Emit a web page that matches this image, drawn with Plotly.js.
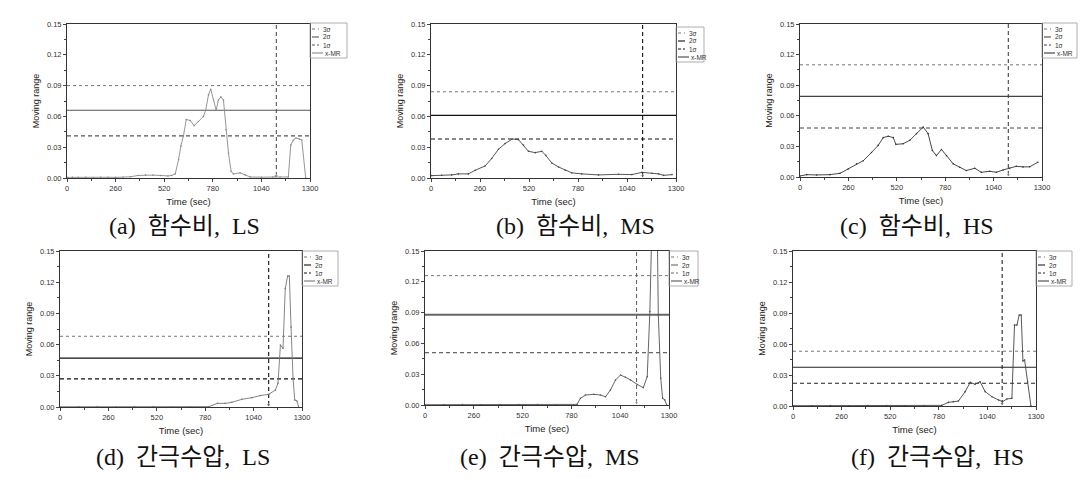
<!DOCTYPE html>
<html><head><meta charset="utf-8">
<script src="https://cdn.plot.ly/plotly-3.0.1.min.js"></script>
<style>html,body{margin:0;padding:0;background:#fff}#c{width:1086px;height:478px}</style>
</head><body><div id="c"></div>
<script>
const timeTicks = [0,260,520,780,1040,1300];
const yTicks = [0,0.03,0.06,0.09,0.12,0.15];
const captions = ["(a)  함수비,  LS","(b)  함수비,  MS","(c)  함수비,  HS","(d)  간극수압,  LS","(e)  간극수압,  MS","(f)  간극수압,  HS"];
const legendNames = ["3σ","2σ","1σ","x-MR"];
const sigma3 = [0.090,0.084,0.110,0.068,0.126,0.053];
const sigma2 = [0.066,0.061,0.079,0.047,0.088,0.0375];
const sigma1 = [0.041,0.038,0.048,0.027,0.051,0.022];
const changeTime = [1120,1123,1119,1121,1127,1119];

const tA = [0,30,60,100,140,180,220,260,300,340,380,420,460,500,540,560,579,597,609,623,638,659,680,703,730,742,757,769,784,798,810,823,837,850,864,878,890,926,953,980,1040,1100,1113,1140,1184,1197,1211,1225,1243,1256,1277];
const mrA = [0.0006,0.0007,0.0006,0.0007,0.0005,0.0006,0.0007,0.0006,0.0008,0.0012,0.0025,0.003,0.0028,0.0025,0.002,0.0025,0.004,0.018,0.031,0.041,0.057,0.056,0.051,0.055,0.060,0.066,0.081,0.0865,0.076,0.066,0.076,0.079,0.076,0.047,0.024,0.0065,0.004,0.005,0.003,0.001,0.0008,0.001,0.0016,0.001,0.001,0.032,0.037,0.039,0.038,0.037,0.0];
const tB = [4,57,110,145,198,234,287,322,358,393,432,464,491,517,553,588,609,641,677,712,747,800,889,995,1066,1119,1172,1208,1234,1279];
const mrB = [0.0023,0.0026,0.003,0.004,0.004,0.0075,0.0117,0.019,0.028,0.0335,0.038,0.0374,0.032,0.026,0.0247,0.026,0.022,0.0146,0.0107,0.0075,0.005,0.004,0.003,0.0036,0.0033,0.0055,0.0046,0.004,0.0026,0.0033];
const tC = [0,36,89,161,215,259,304,340,384,420,447,474,501,515,554,590,626,662,688,711,733,760,787,823,858,894,939,974,1019,1055,1091,1126,1162,1198,1234,1278];
const mrC = [0.001,0.0023,0.002,0.0023,0.0036,0.0079,0.0129,0.016,0.024,0.031,0.0386,0.040,0.0386,0.032,0.0326,0.036,0.0425,0.049,0.0425,0.026,0.021,0.027,0.021,0.0129,0.0096,0.0063,0.0086,0.0046,0.0056,0.0046,0.0069,0.0086,0.0105,0.0099,0.010,0.0145];
const tD = [0,100,200,300,400,500,600,700,800,846,887,923,977,1031,1076,1121,1157,1171,1184,1198,1210,1223,1232,1241,1252,1261,1273,1282];
const mrD = [0.0003,0.0003,0.0004,0.0003,0.0005,0.0004,0.0003,0.0003,0.0004,0.0035,0.0035,0.0045,0.0074,0.009,0.011,0.0122,0.0163,0.0228,0.0596,0.0564,0.114,0.126,0.126,0.077,0.0276,0.0067,0.0058,0.0];
const tE = [0,100,200,300,400,500,600,700,790,810,828,855,899,935,962,988,1015,1042,1068,1095,1131,1163,1184,1198,1207,1222,1238,1243,1256,1266,1277,1288];
const mrE = [0.0003,0.0003,0.0004,0.0003,0.0004,0.0005,0.0004,0.0003,0.0003,0.0006,0.0065,0.0097,0.0104,0.0097,0.0081,0.0146,0.0244,0.0292,0.027,0.0244,0.020,0.0169,0.0276,0.091,0.16,0.18,0.165,0.0877,0.026,0.0065,0.005,0.0];
const tF = [0,100,200,300,400,500,600,700,796,831,858,885,921,948,974,1001,1028,1064,1100,1121,1144,1171,1185,1198,1210,1221,1230,1239,1255,1273];
const mrF = [0.0003,0.0003,0.0004,0.0003,0.0005,0.0004,0.0003,0.0003,0.0006,0.0035,0.0042,0.0048,0.0139,0.0229,0.021,0.0235,0.0139,0.009,0.0058,0.0042,0.0068,0.0074,0.0784,0.0784,0.088,0.088,0.0435,0.0445,0.0235,0.0];

const times = [tA,tB,tC,tD,tE,tF];
const mrs = [mrA,mrB,mrC,mrD,mrE,mrF];

// layout geometry (pixels)
const W = 1086, H = 478;
const boxes = [ // [left,right,top,bottom]
  [67,310,24,178],[431,676,24,178],[800,1042,24,177],
  [60,302,251,407],[425,669,251,405],[793,1036,251,406]];
const legTop = [23,27,23,251,251,251];
const legW = [37,28,35,36,29,36];
const capPos = [[184,226],[575,226],[917,226],[183,457],[550,457],[937,457]];
const mrColor = ['#8a8a8a','#444','#333','#777','#555','#444'];
const thrColor = ['#555','#111','#444','#111','#666','#222'];

const px = x => x / W, py = y => 1 - y / H;
const traces = [];
const layout = {
  width: W, height: H, margin:{l:0,r:0,t:0,b:0}, showlegend:false,
  paper_bgcolor:'#fff', plot_bgcolor:'#fff',
  font:{family:'Liberation Sans, Arial, sans-serif', color:'#333'},
  shapes:[], annotations:[]
};

for (let i = 0; i < 6; i++) {
  const n = i === 0 ? '' : String(i + 1);
  const xa = 'x' + n, ya = 'y' + n;
  const [l, r, t, b] = boxes[i];
  layout['xaxis' + n] = {
    domain:[px(l), px(r)], anchor: ya, range:[0,1300], tickvals: timeTicks,
    ticks:'outside', ticklen:3, tickcolor:'#444', showline:true, mirror:true,
    linecolor:'#333', linewidth:1, showgrid:false, zeroline:false,
    tickfont:{size:7.5, color:'#333'},
    minor:{ticks:'outside', ticklen:2, tickvals:[130,390,650,910,1170], tickcolor:'#444'},
    title:{text:'Time (sec)', font:{size:9.5, color:'#222'}, standoff:6}
  };
  layout['yaxis' + n] = {
    domain:[py(b), py(t)], anchor: xa, range:[0,0.15], tickvals: yTicks, tickformat:'.2f',
    ticks:'outside', ticklen:3, tickcolor:'#444', showline:true, mirror:true,
    linecolor:'#333', linewidth:1, showgrid:false, zeroline:false,
    tickfont:{size:7.5, color:'#333'},
    minor:{ticks:'outside', ticklen:2, tickvals:[0.015,0.045,0.075,0.105,0.135], tickcolor:'#444'},
    title:{text:'Moving range', font:{size:9, color:'#222'}, standoff:5}
  };
  const c = thrColor[i];
  traces.push({x:[0,1300], y:[sigma3[i],sigma3[i]], xaxis:xa, yaxis:ya, mode:'lines', line:{color:'#777', width:1, dash:'dot'}});
  traces.push({x:[0,1300], y:[sigma2[i],sigma2[i]], xaxis:xa, yaxis:ya, mode:'lines', line:{color:c, width:i===4?2:1.2}});
  traces.push({x:[0,1300], y:[sigma1[i],sigma1[i]], xaxis:xa, yaxis:ya, mode:'lines', line:{color:c, width:1.1, dash:'4px,3px'}});
  traces.push({x:[changeTime[i],changeTime[i]], y:[0.002,0.15], xaxis:xa, yaxis:ya, mode:'lines+markers',
    line:{color:c, width:1.1, dash:'4px,3px'}, marker:{symbol:'triangle-down', size:[4,0], color:c}});
  traces.push({x:times[i], y:mrs[i], xaxis:xa, yaxis:ya, mode:'lines+markers',
    line:{color:mrColor[i], width:0.9}, marker:{size:1.6, color:mrColor[i]}});

  // legend box
  const L = r, T = legTop[i], LW = legW[i], LH = 35;
  layout.shapes.push({type:'rect', xref:'paper', yref:'paper', x0:px(L), x1:px(L+LW), y0:py(T+LH), y1:py(T),
    line:{color:'#999', width:0.8}, fillcolor:'rgba(0,0,0,0)'});
  const styles = [{color:'#777', dash:'dot'},{color:c, dash:'solid'},{color:c, dash:'3px,2px'},{color:mrColor[i], dash:'solid'}];
  for (let k = 0; k < 4; k++) {
    const yy = T + 6 + k * 8;
    const x1 = k === 3 ? L + 13 : L + 9;
    layout.shapes.push({type:'line', xref:'paper', yref:'paper', x0:px(L+2), x1:px(x1), y0:py(yy), y1:py(yy),
      line:{color:styles[k].color, width:1.1, dash:styles[k].dash}});
    layout.annotations.push({xref:'paper', yref:'paper', x:px(k===3?L+13:L+11), y:py(yy), text:legendNames[k],
      showarrow:false, xanchor:'left', yanchor:'middle', font:{size:6.5, color:'#333'}});
  }
  layout.annotations.push({xref:'paper', yref:'paper', x:px(capPos[i][0]), y:py(capPos[i][1]), text:captions[i],
    showarrow:false, xanchor:'center', yanchor:'middle',
    font:{size:24, color:'#111', family:"'Liberation Serif', 'Noto Sans CJK KR', serif"}});
}

Plotly.newPlot('c', traces, layout, {staticPlot:true, displayModeBar:false});
</script></body></html>
